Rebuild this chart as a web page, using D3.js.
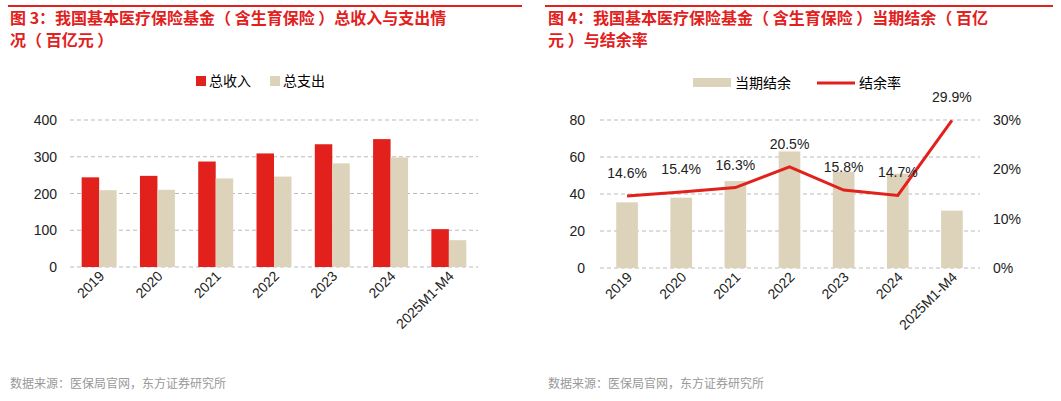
<!DOCTYPE html>
<html><head><meta charset="utf-8">
<script src="https://cdn.jsdelivr.net/npm/d3@7"></script>
<style>body{margin:0;background:#fff;font-family:"Liberation Sans","Noto Sans CJK SC",sans-serif}</style>
</head><body><svg id="c" width="1061" height="401"></svg>
<script>
const categories = ["2019","2020","2021","2022","2023","2024","2025M1-M4"];
const income = [244,248,287,309,334,348,103];
const expense = [209,210,241,246,282,298,73];
const surplus = [35.5,38,47,63,52,51,31];
const surplusRate = [14.6,15.4,16.3,20.5,15.8,14.7,29.9];
const RED = "#e2201c", BEIGE = "#ddd3bb", CJK = "'Noto Sans CJK SC',sans-serif";

const svg = d3.select("#c");

function title(x, lines, color) {
  lines.forEach((t, i) => svg.append("text").attr("x", x).attr("y", 24 + i * 22)
    .attr("font-family", CJK).attr("font-size", 16).attr("font-weight", "bold")
    .attr("fill", color).text(t));
}
svg.append("line").attr("x1",8).attr("x2",522).attr("y1",6).attr("y2",6).attr("stroke",RED).attr("stroke-width",2);
svg.append("line").attr("x1",545).attr("x2",1053).attr("y1",6).attr("y2",6).attr("stroke",RED).attr("stroke-width",2);
title(10, ["图 3：我国基本医疗保险基金（ 含生育保险 ）总收入与支出情", "况（ 百亿元 ）"], RED);
title(548, ["图 4：我国基本医疗保险基金（ 含生育保险 ）当期结余（ 百亿", "元 ）与结余率"], RED);
[[10, 388], [548, 388]].forEach(([x, y]) => svg.append("text").attr("x", x).attr("y", y)
  .attr("font-family", CJK).attr("font-size", 12).attr("fill", "#999").text("数据来源：医保局官网，东方证券研究所"));

function grid(g, y, x0, x1) {
  g.selectAll(".gl").data(y.ticks(4)).join("line")
    .attr("x1", x0).attr("x2", x1).attr("y1", d => y(d)).attr("y2", d => y(d))
    .attr("stroke", "#bbb").attr("stroke-dasharray", "4,3");
}
function xlabels(g, x, y0) {
  categories.forEach(c => g.append("text")
    .attr("transform", `translate(${x(c) + x.bandwidth() / 2 + 6},${y0 + 10}) rotate(-45)`)
    .attr("text-anchor", "end").attr("font-size", 14).attr("fill", "#222").text(c));
}
function ylabels(g, y, xpos, anchor, fmt) {
  y.ticks(4).forEach(d => g.append("text").attr("x", xpos).attr("y", y(d) + 5)
    .attr("text-anchor", anchor).attr("font-size", 14).attr("fill", "#222").text(fmt(d)));
}

// left chart
{
  const g = svg.append("g");
  const x = d3.scaleBand().domain(categories).range([70, 478]).paddingInner(0.4).paddingOuter(0.2);
  const y = d3.scaleLinear().domain([0, 400]).range([267, 120]);
  grid(g, y, 70, 478);
  const w = x.bandwidth() / 2;
  g.selectAll(".a").data(income).join("rect").attr("x", (d, i) => x(categories[i]))
    .attr("y", d => y(d)).attr("width", w).attr("height", d => y(0) - y(d)).attr("fill", RED);
  g.selectAll(".b").data(expense).join("rect").attr("x", (d, i) => x(categories[i]) + w)
    .attr("y", d => y(d)).attr("width", w).attr("height", d => y(0) - y(d)).attr("fill", BEIGE);
  ylabels(g, y, 57, "end", d => d);
  xlabels(g, x, 267);
  const lg = svg.append("g").attr("font-family", CJK).attr("font-size", 14);
  lg.append("rect").attr("x", 196).attr("y", 76).attr("width", 10).attr("height", 10).attr("fill", RED);
  lg.append("text").attr("x", 209).attr("y", 86).text("总收入");
  lg.append("rect").attr("x", 270).attr("y", 76).attr("width", 10).attr("height", 10).attr("fill", BEIGE);
  lg.append("text").attr("x", 283).attr("y", 86).text("总支出");
}

// right chart
{
  const g = svg.append("g");
  const x = d3.scaleBand().domain(categories).range([600, 979]).paddingInner(0.6).paddingOuter(0.3);
  const y = d3.scaleLinear().domain([0, 80]).range([268, 120]);
  const y2 = d3.scaleLinear().domain([0, 30]).range([268, 120]);
  grid(g, y, 600, 980);
  g.selectAll(".s").data(surplus).join("rect").attr("x", (d, i) => x(categories[i]))
    .attr("y", d => y(d)).attr("width", x.bandwidth()).attr("height", d => y(0) - y(d)).attr("fill", BEIGE);
  const cx = i => x(categories[i]) + x.bandwidth() / 2;
  g.append("path").datum(surplusRate)
    .attr("d", d3.line().x((d, i) => cx(i)).y(d => y2(d)))
    .attr("fill", "none").attr("stroke", RED).attr("stroke-width", 3);
  g.selectAll(".lb").data(surplusRate).join("text")
    .attr("x", (d, i) => cx(i)).attr("y", (d, i) => i === 6 ? 102 : y2(d) - 18)
    .attr("text-anchor", "middle").attr("font-size", 14).attr("fill", "#222")
    .text(d => d.toFixed(1) + "%");
  ylabels(g, y, 585, "end", d => d);
  y2.ticks(3).forEach(d => g.append("text").attr("x", 993).attr("y", y2(d) + 5)
    .attr("font-size", 14).attr("fill", "#222").text(d + "%"));
  xlabels(g, x, 268);
  const lg = svg.append("g").attr("font-family", CJK).attr("font-size", 14);
  lg.append("rect").attr("x", 693).attr("y", 78).attr("width", 38).attr("height", 9).attr("fill", BEIGE);
  lg.append("text").attr("x", 735).attr("y", 88).text("当期结余");
  lg.append("line").attr("x1", 817).attr("x2", 855).attr("y1", 83).attr("y2", 83).attr("stroke", RED).attr("stroke-width", 3);
  lg.append("text").attr("x", 859).attr("y", 88).text("结余率");
}
</script></body></html>
